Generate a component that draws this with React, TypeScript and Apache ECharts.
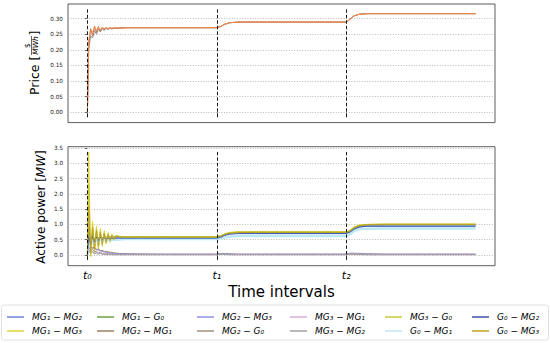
import { useEffect, useRef } from 'react';
import * as echarts from 'echarts';

// shared time axis (in units of the interval t0..t3)
const T = [0, 0.01, 0.025, 0.04, 0.055, 0.07, 0.085, 0.1, 0.115, 0.13, 0.145, 0.16, 0.175, 0.19, 0.205, 0.22,
  0.25, 0.3, 0.4, 0.6,
  1.0, 1.03, 1.06, 1.1, 1.16, 1.3,
  2.0, 2.03, 2.06, 2.1, 2.16, 2.3,
  3.0];

// price curves (top panel)
const PRICE_A = [0, 0.2, 0.245, 0.238, 0.262, 0.25, 0.267, 0.257, 0.268, 0.262, 0.269, 0.265, 0.27, 0.267, 0.27, 0.269,
  0.27, 0.271, 0.271, 0.271,
  0.271, 0.275, 0.282, 0.287, 0.289, 0.289,
  0.289, 0.298, 0.309, 0.314, 0.316, 0.316,
  0.316];
const PRICE_B = [0, 0.215, 0.268, 0.245, 0.276, 0.256, 0.275, 0.261, 0.273, 0.264, 0.272, 0.266, 0.271, 0.268, 0.27, 0.27,
  0.27, 0.271, 0.271, 0.271,
  0.271, 0.275, 0.282, 0.287, 0.289, 0.289,
  0.289, 0.298, 0.309, 0.314, 0.316, 0.316,
  0.316];
const PRICE_C = [0, 0.23, 0.262, 0.257, 0.27, 0.263, 0.271, 0.266, 0.27, 0.268, 0.27, 0.269, 0.27, 0.27, 0.27, 0.27,
  0.27, 0.271, 0.271, 0.271,
  0.271, 0.275, 0.282, 0.287, 0.289, 0.289,
  0.289, 0.298, 0.309, 0.314, 0.316, 0.316,
  0.316];

// active power flows (bottom panel)
const MG1_MG2 = [0, 0.7, 0.4, 0.62, 0.45, 0.6, 0.5, 0.58, 0.52, 0.57, 0.54, 0.56, 0.55, 0.56, 0.55, 0.56,
  0.56, 0.56, 0.56, 0.56,
  0.56, 0.59, 0.65, 0.69, 0.71, 0.71,
  0.71, 0.76, 0.85, 0.92, 0.95, 0.95,
  0.95];
const MG1_MG3 = [0, 3.37, -0.06, 1.1, 0.05, 0.95, 0.18, 0.86, 0.28, 0.79, 0.36, 0.73, 0.42, 0.69, 0.47, 0.65,
  0.6, 0.59, 0.58, 0.58,
  0.58, 0.62, 0.69, 0.74, 0.76, 0.77,
  0.77, 0.82, 0.92, 0.98, 1.0, 1.01,
  1.01];
const MG1_G0 = [0, 0.9, 0.45, 0.7, 0.5, 0.66, 0.54, 0.64, 0.56, 0.62, 0.58, 0.61, 0.59, 0.61, 0.6, 0.6,
  0.6, 0.6, 0.6, 0.6,
  0.6, 0.63, 0.68, 0.72, 0.74, 0.74,
  0.74, 0.79, 0.88, 0.95, 0.98, 0.99,
  0.99];
const MG2_MG1 = [0, 0.4, 0.3, 0.24, 0.25, 0.19, 0.19, 0.15, 0.15, 0.12, 0.12, 0.1, 0.09, 0.08, 0.07, 0.06,
  0.05, 0.04, 0.03, 0.02,
  0.02, 0.04, 0.04, 0.03, 0.02, 0.02,
  0.02, 0.05, 0.05, 0.04, 0.03, 0.02,
  0.02];
const MG2_MG3 = [0, 0.33, 0.28, 0.22, 0.21, 0.17, 0.16, 0.13, 0.12, 0.1, 0.09, 0.08, 0.07, 0.06, 0.05, 0.05,
  0.04, 0.04, 0.03, 0.03,
  0.03, 0.05, 0.05, 0.04, 0.03, 0.03,
  0.03, 0.06, 0.06, 0.05, 0.04, 0.03,
  0.03];
const MG2_G0 = [0, 0.28, 0.15, 0.18, 0.1, 0.12, 0.07, 0.09, 0.05, 0.06, 0.04, 0.05, 0.03, 0.03, 0.02, 0.02,
  0.02, 0.02, 0.02, 0.02,
  0.02, 0.03, 0.03, 0.02, 0.02, 0.02,
  0.02, 0.04, 0.04, 0.03, 0.02, 0.02,
  0.02];
const MG3_MG1 = [0, 0.2, 0.08, 0.12, 0.05, 0.08, 0.04, 0.06, 0.03, 0.04, 0.02, 0.03, 0.02, 0.02, 0.01, 0.01,
  0.01, 0.01, 0.01, 0.01,
  0.01, 0.02, 0.02, 0.01, 0.01, 0.01,
  0.01, 0.03, 0.03, 0.02, 0.01, 0.01,
  0.01];
const MG3_MG2 = [0, 0.15, 0.05, 0.1, 0.03, 0.07, 0.02, 0.05, 0.02, 0.03, 0.01, 0.02, 0.01, 0.01, 0.01, 0.01,
  0.01, 0.01, 0.01, 0.01,
  0.01, 0.02, 0.02, 0.01, 0.01, 0.01,
  0.01, 0.02, 0.02, 0.01, 0.01, 0.01,
  0.01];
const MG3_G0 = [0, 2.3, 0.0, 0.98, 0.14, 0.86, 0.25, 0.79, 0.33, 0.73, 0.4, 0.69, 0.45, 0.66, 0.5, 0.63,
  0.61, 0.6, 0.6, 0.6,
  0.6, 0.63, 0.69, 0.73, 0.75, 0.75,
  0.75, 0.8, 0.9, 0.97, 1.0, 1.01,
  1.01];
const G0_MG1 = [0, 0.5, 0.3, 0.5, 0.38, 0.5, 0.42, 0.5, 0.45, 0.5, 0.47, 0.5, 0.48, 0.5, 0.5, 0.5,
  0.51, 0.52, 0.52, 0.52,
  0.52, 0.54, 0.57, 0.6, 0.62, 0.62,
  0.62, 0.68, 0.78, 0.84, 0.86, 0.87,
  0.87];
const G0_MG2 = [0, 0.6, 0.35, 0.6, 0.42, 0.58, 0.47, 0.57, 0.5, 0.56, 0.52, 0.55, 0.53, 0.55, 0.54, 0.55,
  0.55, 0.55, 0.55, 0.55,
  0.55, 0.58, 0.64, 0.68, 0.7, 0.7,
  0.7, 0.75, 0.84, 0.91, 0.94, 0.94,
  0.94];
const G0_MG3 = [0, 1.6, 0.08, 0.9, 0.2, 0.8, 0.3, 0.74, 0.37, 0.7, 0.42, 0.66, 0.47, 0.63, 0.5, 0.61,
  0.59, 0.58, 0.58, 0.58,
  0.58, 0.61, 0.67, 0.71, 0.73, 0.74,
  0.74, 0.79, 0.89, 0.96, 0.99, 1.0,
  1.0];

const FLOW_NAMES = ['MG₁ − MG₂', 'MG₁ − MG₃', 'MG₁ − G₀', 'MG₂ − MG₁', 'MG₂ − MG₃', 'MG₂ − G₀',
  'MG₃ − MG₁', 'MG₃ − MG₂', 'MG₃ − G₀', 'G₀ − MG₁', 'G₀ − MG₂', 'G₀ − MG₃'];
const FLOW_VALUES = [MG1_MG2, MG1_MG3, MG1_G0, MG2_MG1, MG2_MG3, MG2_G0, MG3_MG1, MG3_MG2, MG3_G0, G0_MG1, G0_MG2, G0_MG3];
const FLOW_COLORS = ['#6f84d8', '#e0d43a', '#6fa040', '#a08060', '#9090e0', '#a09080',
  '#d4aed8', '#a0a0a0', '#c8c838', '#bde9f6', '#3858b0', '#c0a020'];
const FLOW_WIDTHS = [1, 1, 1, 1, 1, 1, 1, 1, 1, 2.5, 1, 1];

const PRICE_VALUES = [PRICE_A, PRICE_B, PRICE_C];
const PRICE_COLORS = ['#909090', '#c87040', '#f28a4c'];

const EVENT_X = [0, 1, 2];
const EVENT_LABELS = ['t₀', 't₁', 't₂'];
const PRICE_TICKS = [0, 0.05, 0.1, 0.15, 0.2, 0.25, 0.3];
const POWER_TICKS = [0, 0.5, 1, 1.5, 2, 2.5, 3, 3.5];
const PRICE_VLINE = [-0.016, 0.332];
const POWER_VLINE = [-0.16, 3.38];

const LEGEND_LEFTS = [7, 97, 197, 290, 385, 472];

const FONT = 'DejaVu Sans';

export default function App() {
  const ref = useRef<HTMLDivElement>(null);
  useEffect(() => {
    const chart = echarts.init(ref.current!, null, { renderer: 'svg' });

    const pairs = (vals: number[]) => T.map((t, i) => [t, vals[i]]);
    const vlines = (range: number[]) => ({
      silent: true,
      symbol: ['none', 'none'],
      label: { show: false },
      lineStyle: { type: [3.5, 2], color: '#000', width: 0.9 },
      data: EVENT_X.map((x) => [{ coord: [x, range[0]] }, { coord: [x, range[1]] }]),
    });

    const xBase = (gridIndex: number, showLabels: boolean) => ({
      type: 'value',
      gridIndex,
      min: -0.15,
      max: 3.15,
      axisLine: { show: false },
      splitLine: { show: false },
      axisTick: { show: true, length: 2.5, customValues: EVENT_X, lineStyle: { color: '#333', width: 0.7 } },
      axisLabel: {
        show: showLabels,
        customValues: EVENT_X,
        margin: 4,
        fontFamily: FONT,
        fontStyle: 'italic',
        fontSize: 11,
        color: '#000',
        formatter: (v: number) => EVENT_LABELS[EVENT_X.indexOf(v)] ?? '',
      },
    });
    const yBase = (gridIndex: number, min: number, max: number, ticks: number[], fmt: (v: number) => string) => ({
      type: 'value',
      gridIndex,
      min,
      max,
      axisLine: { show: false },
      axisTick: { show: true, length: 2.5, customValues: ticks, lineStyle: { color: '#333', width: 0.7 } },
      axisLabel: { customValues: ticks, margin: 5, fontFamily: FONT, fontSize: 5.7, color: '#222', formatter: fmt },
      splitLine: { show: true, lineStyle: { type: [1, 1.6], color: '#aaaaaa', width: 0.8 } },
    });

    const priceSeries = PRICE_VALUES.map((vals, i) => ({
      type: 'line',
      name: 'price' + i,
      xAxisIndex: 0,
      yAxisIndex: 0,
      data: pairs(vals),
      showSymbol: false,
      symbol: 'none',
      lineStyle: { width: 1, color: PRICE_COLORS[i] },
      itemStyle: { color: PRICE_COLORS[i] },
      markLine: i === PRICE_VALUES.length - 1 ? vlines(PRICE_VLINE) : undefined,
    }));
    const flowSeries = FLOW_VALUES.map((vals, i) => ({
      type: 'line',
      name: FLOW_NAMES[i],
      xAxisIndex: 1,
      yAxisIndex: 1,
      data: pairs(vals),
      showSymbol: false,
      symbol: 'none',
      lineStyle: { width: FLOW_WIDTHS[i], color: FLOW_COLORS[i] },
      itemStyle: { color: FLOW_COLORS[i] },
      markLine: i === FLOW_VALUES.length - 1 ? vlines(POWER_VLINE) : undefined,
    }));

    const legends = LEGEND_LEFTS.map((left, c) => ({
      orient: 'vertical',
      left,
      top: 311,
      padding: 0,
      itemGap: 2,
      icon: 'rect',
      itemWidth: 17,
      itemHeight: 1.5,
      selectedMode: false,
      data: [FLOW_NAMES[2 * c], FLOW_NAMES[2 * c + 1]],
      textStyle: { fontFamily: FONT, fontStyle: 'italic', fontSize: 9, color: '#000', lineHeight: 12, padding: [0, 0, 0, 3] },
    }));

    chart.setOption({
      animation: false,
      backgroundColor: '#fff',
      grid: [
        { left: 68, right: 55, top: 4, height: 118.6, show: true, borderColor: '#333', borderWidth: 0.8, backgroundColor: 'transparent' },
        { left: 68, right: 55, top: 146.7, height: 119, show: true, borderColor: '#333', borderWidth: 0.8, backgroundColor: 'transparent' },
      ],
      xAxis: [xBase(0, false), xBase(1, true)],
      yAxis: [
        yBase(0, -0.033, 0.347, PRICE_TICKS, (v: number) => v.toFixed(2)),
        yBase(1, -0.35, 3.54, POWER_TICKS, (v: number) => v.toFixed(1)),
      ],
      legend: legends,
      series: [...priceSeries, ...flowSeries],
      graphic: [
        {
          type: 'rect', z: -1,
          shape: { x: 1.5, y: 305, width: 547, height: 35, r: 2.5 },
          style: { fill: '#fff', stroke: '#d8d8d8', lineWidth: 0.8 },
        },
        {
          type: 'group', x: 34, y: 63, rotation: Math.PI / 2,
          children: [
            { type: 'text', x: -32, y: 0, style: { text: 'Price [', fontFamily: FONT, fontSize: 12.5, fill: '#000', align: 'left', verticalAlign: 'middle' } },
            { type: 'text', x: 17.5, y: -7, style: { text: '$', fontFamily: FONT, fontSize: 7.5, fill: '#000', align: 'center', verticalAlign: 'middle' } },
            { type: 'line', shape: { x1: 8, y1: -2.5, x2: 27, y2: -2.5 }, style: { stroke: '#000', lineWidth: 0.6 } },
            { type: 'text', x: 17.5, y: 1.8, style: { text: 'MWh', fontFamily: FONT, fontStyle: 'italic', fontSize: 7.5, fill: '#000', align: 'center', verticalAlign: 'middle' } },
            { type: 'text', x: 27.5, y: 0, style: { text: ']', fontFamily: FONT, fontSize: 12.5, fill: '#000', align: 'left', verticalAlign: 'middle' } },
          ],
        },
        {
          type: 'text', x: 41, y: 207, rotation: Math.PI / 2,
          style: {
            text: '{n|Active power [}{i|MW}{n|]}',
            align: 'center', verticalAlign: 'middle',
            rich: {
              n: { fontFamily: FONT, fontSize: 12, fill: '#000' },
              i: { fontFamily: FONT, fontSize: 12, fontStyle: 'italic', fill: '#000' },
            },
          },
        },
        {
          type: 'text', x: 281.5, y: 291.5,
          style: { text: 'Time intervals', fontFamily: FONT, fontSize: 15, fill: '#000', align: 'center', verticalAlign: 'middle' },
        },
      ],
    });
    return () => chart.dispose();
  }, []);
  return <div ref={ref} style={{ position: 'fixed', left: 0, top: 0, width: 550, height: 343 }} />;
}
